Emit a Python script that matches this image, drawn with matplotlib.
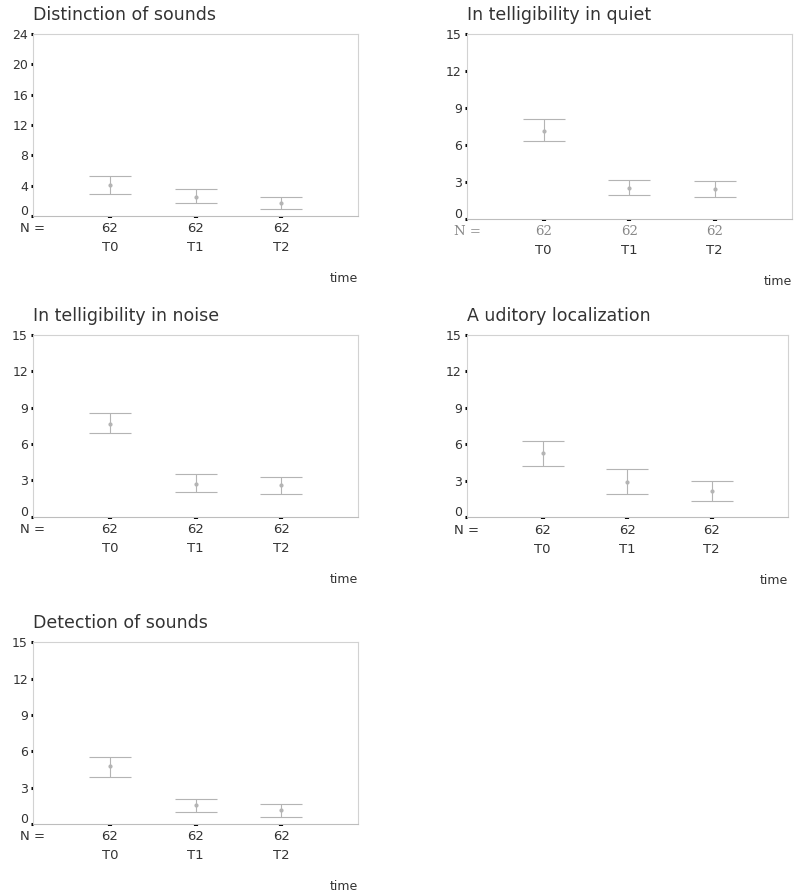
import matplotlib
matplotlib.use("Agg")
import matplotlib.pyplot as plt
import matplotlib.transforms as mtransforms

times = ["T0", "T1", "T2"]
n_counts = [62, 62, 62]

distinction_mean = [4.1, 2.55, 1.75]
distinction_low = [2.85, 1.7, 0.9]
distinction_high = [5.3, 3.55, 2.55]

quiet_mean = [7.15, 2.55, 2.45]
quiet_low = [6.3, 1.95, 1.75]
quiet_high = [8.1, 3.2, 3.05]

noise_mean = [7.65, 2.7, 2.6]
noise_low = [6.95, 2.0, 1.85]
noise_high = [8.55, 3.55, 3.3]

localization_mean = [5.25, 2.9, 2.15]
localization_low = [4.25, 1.95, 1.35]
localization_high = [6.3, 3.95, 3.0]

detection_mean = [4.8, 1.55, 1.15]
detection_low = [3.9, 1.0, 0.55]
detection_high = [5.5, 2.1, 1.65]

panels = [
    ("Distinction of sounds", distinction_mean, distinction_low, distinction_high, 24, 4),
    ("In telligibility in quiet", quiet_mean, quiet_low, quiet_high, 15, 3),
    ("In telligibility in noise", noise_mean, noise_low, noise_high, 15, 3),
    ("A uditory localization", localization_mean, localization_low, localization_high, 15, 3),
    ("Detection of sounds", detection_mean, detection_low, detection_high, 15, 3),
]

# axes rectangles in figure fractions (left, bottom, width, height)
rects = [
    (0.0415, 0.759, 0.409, 0.203),
    (0.587, 0.7556, 0.409, 0.2065),
    (0.0415, 0.4233, 0.409, 0.2028),
    (0.587, 0.4227, 0.404, 0.2035),
    (0.0415, 0.0804, 0.409, 0.2028),
]

fig = plt.figure(figsize=(7.95, 8.96), dpi=100)
fig.patch.set_facecolor("white")

bar_color = "#b4b4b4"
text_color = "#333333"

for idx, ((title, mean, low, high, ymax, ystep), rect) in enumerate(zip(panels, rects)):
    ax = fig.add_axes(rect)
    x = list(range(1, len(times) + 1))
    yerr = [[m - lo for m, lo in zip(mean, low)], [hi - m for m, hi in zip(mean, high)]]
    ax.errorbar(x, mean, yerr=yerr, fmt="o", markersize=2, color=bar_color,
                ecolor=bar_color, elinewidth=0.8, capsize=15, capthick=0.8)

    ax.set_xlim(0.1, 3.9)
    ax.set_ylim(0, ymax)
    ax.set_yticks(range(0, ymax + 1, ystep))
    ax.set_xticks(x)
    ax.set_xticklabels([])
    ax.tick_params(axis="y", direction="out", length=1.6, width=2.2, color="black",
                   pad=2, labelsize=9, labelcolor=text_color)
    ax.tick_params(axis="x", direction="out", length=1.4, width=3.0, color="black", pad=0)
    for side, spine in ax.spines.items():
        spine.set_color("#d2d2d2")
        spine.set_linewidth(0.8)
    ax.spines["bottom"].set_color("#bdbdbd")

    # the "0" label sits a little above its tick
    zero_label = ax.get_yticklabels()[0]
    zero_label.set_transform(zero_label.get_transform() +
                             mtransforms.ScaledTranslation(0, 6 / 100, fig.dpi_scale_trans))

    # title
    ax.annotate(title, xy=(0, 1), xycoords="axes fraction", xytext=(0, 19),
                textcoords="offset pixels", ha="left", va="center",
                fontsize=12.5, color=text_color)

    # N row
    serif = idx == 1
    n_kw = dict(fontsize=9.5, color="#888888", family="serif") if serif else \
        dict(fontsize=9.5, color=text_color)
    ax.annotate("N =", xy=(0, 0), xycoords="axes fraction", xytext=(-13, -13),
                textcoords="offset pixels", ha="left", va="center", **n_kw)
    for xi, n in zip(x, n_counts):
        ax.annotate(str(n), xy=(xi, 0), xycoords=("data", "axes fraction"),
                    xytext=(0, -13), textcoords="offset pixels",
                    ha="center", va="center", **n_kw)
    for xi, t in zip(x, times):
        ax.annotate(t, xy=(xi, 0), xycoords=("data", "axes fraction"),
                    xytext=(0, -32), textcoords="offset pixels",
                    ha="center", va="center", fontsize=9.5, color=text_color)

    ax.annotate("time", xy=(1, 0), xycoords="axes fraction", xytext=(0, -63),
                textcoords="offset pixels", ha="right", va="center",
                fontsize=9, color=text_color)

fig.savefig("out.png", dpi=100, facecolor="white")
